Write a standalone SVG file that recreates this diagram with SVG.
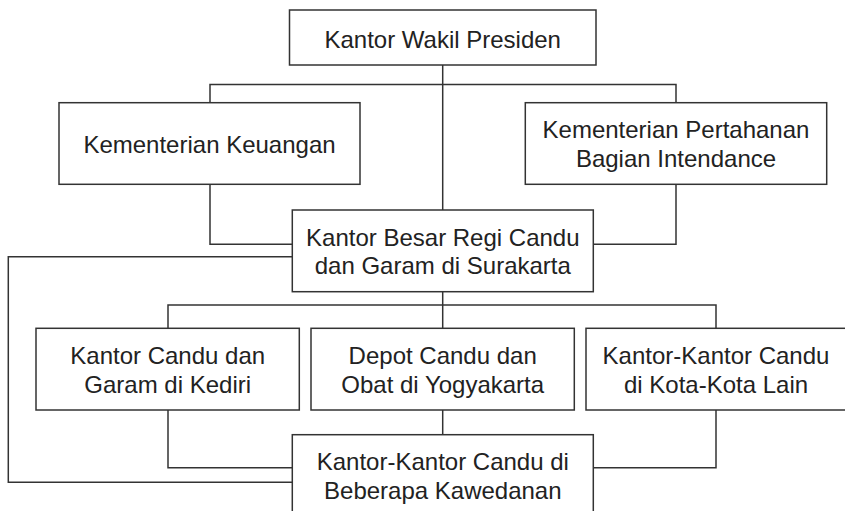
<svg xmlns="http://www.w3.org/2000/svg" width="845" height="511" viewBox="0 0 845 511">
<style>
.box{fill:#fff;stroke:#333;stroke-width:1.5}
.ln{fill:none;stroke:#333;stroke-width:1.5}
text{font-family:"Liberation Sans",Arial,sans-serif;font-size:24px;fill:#222;text-anchor:middle}
</style>
<rect width="845" height="511" fill="#fff"/>
<g id="connectors">
<path class="ln" d="M442.7 65V210"/>
<path class="ln" d="M210 102.7V84.5H676V102.7"/>
<path class="ln" d="M210 184.3V244.3H292.3"/>
<path class="ln" d="M676 184.3V244.3H593.3"/>
<path class="ln" d="M442.7 291.7V328.3"/>
<path class="ln" d="M168 328.3V305H716V328.3"/>
<path class="ln" d="M292.3 256.7H8.3V482.3H292.3"/>
<path class="ln" d="M168 410V467.7H292.3"/>
<path class="ln" d="M442.7 410V434.7"/>
<path class="ln" d="M716 410V467.7H593.3"/>
</g>
<g id="n-wakil">
<rect class="box" x="289.5" y="10" width="306.5" height="55"/>
<text x="442.7" y="48.3">Kantor Wakil Presiden</text>
</g>
<g id="n-keuangan">
<rect class="box" x="59" y="102.7" width="301" height="81.6"/>
<text x="209.5" y="152.7">Kementerian Keuangan</text>
</g>
<g id="n-pertahanan">
<rect class="box" x="525.3" y="102.7" width="301.4" height="81.6"/>
<text x="676" y="138.3">Kementerian Pertahanan</text>
<text x="676" y="167.3">Bagian Intendance</text>
</g>
<g id="n-besar">
<rect class="box" x="292.3" y="210" width="301" height="81.7"/>
<text x="442.8" y="245.7">Kantor Besar Regi Candu</text>
<text x="442.8" y="274.3">dan Garam di Surakarta</text>
</g>
<g id="n-kediri">
<rect class="box" x="36" y="328.3" width="263.3" height="81.7"/>
<text x="167.7" y="364">Kantor Candu dan</text>
<text x="167.7" y="392.7">Garam di Kediri</text>
</g>
<g id="n-depot">
<rect class="box" x="311" y="328.3" width="263.3" height="81.7"/>
<text x="442.7" y="364">Depot Candu dan</text>
<text x="442.7" y="392.7">Obat di Yogyakarta</text>
</g>
<g id="n-kota">
<rect class="box" x="586" y="328.3" width="262" height="81.7"/>
<text x="716" y="364">Kantor-Kantor Candu</text>
<text x="716" y="392.7">di Kota-Kota Lain</text>
</g>
<g id="n-kawedanan">
<rect class="box" x="292.3" y="434.7" width="301" height="82"/>
<text x="442.8" y="470">Kantor-Kantor Candu di</text>
<text x="442.8" y="499.3">Beberapa Kawedanan</text>
</g>
</svg>
